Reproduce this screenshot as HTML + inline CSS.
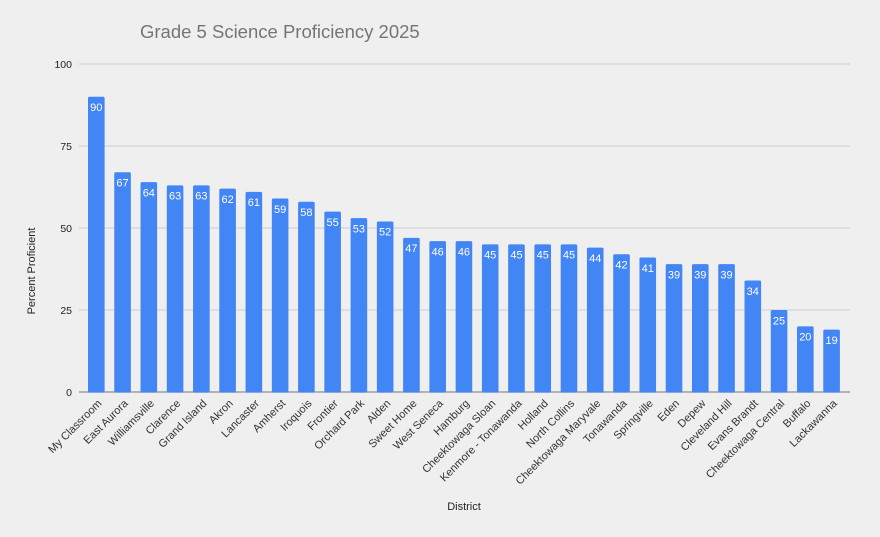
<!DOCTYPE html>
<html>
<head>
<meta charset="utf-8">
<style>
html,body{margin:0;padding:0;background:#efefef;}
svg{display:block;font-family:"Liberation Sans",Arial,sans-serif;}
.tick{font-size:10.5px;fill:#222;text-anchor:end;}
.cat{font-size:11px;fill:#333;text-anchor:end;}
.val{font-size:11px;fill:#fff;text-anchor:middle;}
</style>
</head>
<body>
<svg width="880" height="537" viewBox="0 0 880 537" xmlns="http://www.w3.org/2000/svg">
<rect x="0" y="0" width="880" height="537" fill="#efefef"/>
<text x="140" y="38" font-size="18.5" fill="#757575">Grade 5 Science Proficiency 2025</text>

<g stroke="#d9d9d9" stroke-width="1.5">
<line x1="79" y1="64" x2="850" y2="64"/>
<line x1="79" y1="146" x2="850" y2="146"/>
<line x1="79" y1="228" x2="850" y2="228"/>
<line x1="79" y1="310" x2="850" y2="310"/>
</g>
<line x1="79" y1="392" x2="850" y2="392" stroke="#9e9e9e" stroke-width="1.5"/>

<text class="tick" x="72" y="68">100</text>
<text class="tick" x="72" y="150">75</text>
<text class="tick" x="72" y="232">50</text>
<text class="tick" x="72" y="314">25</text>
<text class="tick" x="72" y="396">0</text>

<text x="35" y="271" font-size="11" fill="#222" text-anchor="middle" transform="rotate(-90 35 271)">Percent Proficient</text>
<text x="464" y="510" font-size="11" fill="#222" text-anchor="middle">District</text>

<g fill="#4285f4">
<rect x="88.00" y="96.8" width="16.6" height="295.7" rx="1.5"/>
<rect x="114.26" y="172.24" width="16.6" height="220.26" rx="1.5"/>
<rect x="140.52" y="182.08" width="16.6" height="210.42" rx="1.5"/>
<rect x="166.78" y="185.36" width="16.6" height="207.14" rx="1.5"/>
<rect x="193.04" y="185.36" width="16.6" height="207.14" rx="1.5"/>
<rect x="219.30" y="188.64" width="16.6" height="203.86" rx="1.5"/>
<rect x="245.56" y="191.92" width="16.6" height="200.58" rx="1.5"/>
<rect x="271.82" y="198.48" width="16.6" height="194.02" rx="1.5"/>
<rect x="298.08" y="201.76" width="16.6" height="190.74" rx="1.5"/>
<rect x="324.34" y="211.6" width="16.6" height="180.9" rx="1.5"/>
<rect x="350.60" y="218.16" width="16.6" height="174.34" rx="1.5"/>
<rect x="376.86" y="221.44" width="16.6" height="171.06" rx="1.5"/>
<rect x="403.12" y="237.84" width="16.6" height="154.66" rx="1.5"/>
<rect x="429.38" y="241.12" width="16.6" height="151.38" rx="1.5"/>
<rect x="455.64" y="241.12" width="16.6" height="151.38" rx="1.5"/>
<rect x="481.90" y="244.4" width="16.6" height="148.1" rx="1.5"/>
<rect x="508.16" y="244.4" width="16.6" height="148.1" rx="1.5"/>
<rect x="534.42" y="244.4" width="16.6" height="148.1" rx="1.5"/>
<rect x="560.68" y="244.4" width="16.6" height="148.1" rx="1.5"/>
<rect x="586.94" y="247.68" width="16.6" height="144.82" rx="1.5"/>
<rect x="613.20" y="254.24" width="16.6" height="138.26" rx="1.5"/>
<rect x="639.46" y="257.52" width="16.6" height="134.98" rx="1.5"/>
<rect x="665.72" y="264.08" width="16.6" height="128.42" rx="1.5"/>
<rect x="691.98" y="264.08" width="16.6" height="128.42" rx="1.5"/>
<rect x="718.24" y="264.08" width="16.6" height="128.42" rx="1.5"/>
<rect x="744.50" y="280.48" width="16.6" height="112.02" rx="1.5"/>
<rect x="770.76" y="310" width="16.6" height="82.5" rx="1.5"/>
<rect x="797.02" y="326.4" width="16.6" height="66.1" rx="1.5"/>
<rect x="823.28" y="329.68" width="16.6" height="62.82" rx="1.5"/>
</g>

<g class="vals">
<text class="val" x="96.30" y="111.1">90</text>
<text class="val" x="122.56" y="186.5">67</text>
<text class="val" x="148.82" y="196.4">64</text>
<text class="val" x="175.08" y="199.7">63</text>
<text class="val" x="201.34" y="199.7">63</text>
<text class="val" x="227.60" y="202.9">62</text>
<text class="val" x="253.86" y="206.2">61</text>
<text class="val" x="280.12" y="212.8">59</text>
<text class="val" x="306.38" y="216.1">58</text>
<text class="val" x="332.64" y="225.9">55</text>
<text class="val" x="358.90" y="232.5">53</text>
<text class="val" x="385.16" y="235.7">52</text>
<text class="val" x="411.42" y="252.1">47</text>
<text class="val" x="437.68" y="255.4">46</text>
<text class="val" x="463.94" y="255.4">46</text>
<text class="val" x="490.20" y="258.7">45</text>
<text class="val" x="516.46" y="258.7">45</text>
<text class="val" x="542.72" y="258.7">45</text>
<text class="val" x="568.98" y="258.7">45</text>
<text class="val" x="595.24" y="262.0">44</text>
<text class="val" x="621.50" y="268.5">42</text>
<text class="val" x="647.76" y="271.8">41</text>
<text class="val" x="674.02" y="278.4">39</text>
<text class="val" x="700.28" y="278.4">39</text>
<text class="val" x="726.54" y="278.4">39</text>
<text class="val" x="752.80" y="294.8">34</text>
<text class="val" x="779.06" y="324.3">25</text>
<text class="val" x="805.32" y="340.7">20</text>
<text class="val" x="831.58" y="344.0">19</text>
</g>

<g>
<text class="cat" x="102.3" y="404" transform="rotate(-45 102.3 404)">My Classroom</text>
<text class="cat" x="128.56" y="404" transform="rotate(-45 128.56 404)">East Aurora</text>
<text class="cat" x="154.82" y="404" transform="rotate(-45 154.82 404)">Williamsville</text>
<text class="cat" x="181.08" y="404" transform="rotate(-45 181.08 404)">Clarence</text>
<text class="cat" x="207.34" y="404" transform="rotate(-45 207.34 404)">Grand Island</text>
<text class="cat" x="233.60" y="404" transform="rotate(-45 233.60 404)">Akron</text>
<text class="cat" x="259.86" y="404" transform="rotate(-45 259.86 404)">Lancaster</text>
<text class="cat" x="286.12" y="404" transform="rotate(-45 286.12 404)">Amherst</text>
<text class="cat" x="312.38" y="404" transform="rotate(-45 312.38 404)">Iroquois</text>
<text class="cat" x="338.64" y="404" transform="rotate(-45 338.64 404)">Frontier</text>
<text class="cat" x="364.90" y="404" transform="rotate(-45 364.90 404)">Orchard Park</text>
<text class="cat" x="391.16" y="404" transform="rotate(-45 391.16 404)">Alden</text>
<text class="cat" x="417.42" y="404" transform="rotate(-45 417.42 404)">Sweet Home</text>
<text class="cat" x="443.68" y="404" transform="rotate(-45 443.68 404)">West Seneca</text>
<text class="cat" x="469.94" y="404" transform="rotate(-45 469.94 404)">Hamburg</text>
<text class="cat" x="496.20" y="404" transform="rotate(-45 496.20 404)">Cheektowaga Sloan</text>
<text class="cat" x="522.46" y="404" transform="rotate(-45 522.46 404)">Kenmore - Tonawanda</text>
<text class="cat" x="548.72" y="404" transform="rotate(-45 548.72 404)">Holland</text>
<text class="cat" x="574.98" y="404" transform="rotate(-45 574.98 404)">North Collins</text>
<text class="cat" x="601.24" y="404" transform="rotate(-45 601.24 404)">Cheektowaga Maryvale</text>
<text class="cat" x="627.50" y="404" transform="rotate(-45 627.50 404)">Tonawanda</text>
<text class="cat" x="653.76" y="404" transform="rotate(-45 653.76 404)">Springville</text>
<text class="cat" x="680.02" y="404" transform="rotate(-45 680.02 404)">Eden</text>
<text class="cat" x="706.28" y="404" transform="rotate(-45 706.28 404)">Depew</text>
<text class="cat" x="732.54" y="404" transform="rotate(-45 732.54 404)">Cleveland Hill</text>
<text class="cat" x="758.80" y="404" transform="rotate(-45 758.80 404)">Evans Brandt</text>
<text class="cat" x="785.06" y="404" transform="rotate(-45 785.06 404)">Cheektowaga Central</text>
<text class="cat" x="811.32" y="404" transform="rotate(-45 811.32 404)">Buffalo</text>
<text class="cat" x="837.58" y="404" transform="rotate(-45 837.58 404)">Lackawanna</text>
</g>
</svg>
</body>
</html>
